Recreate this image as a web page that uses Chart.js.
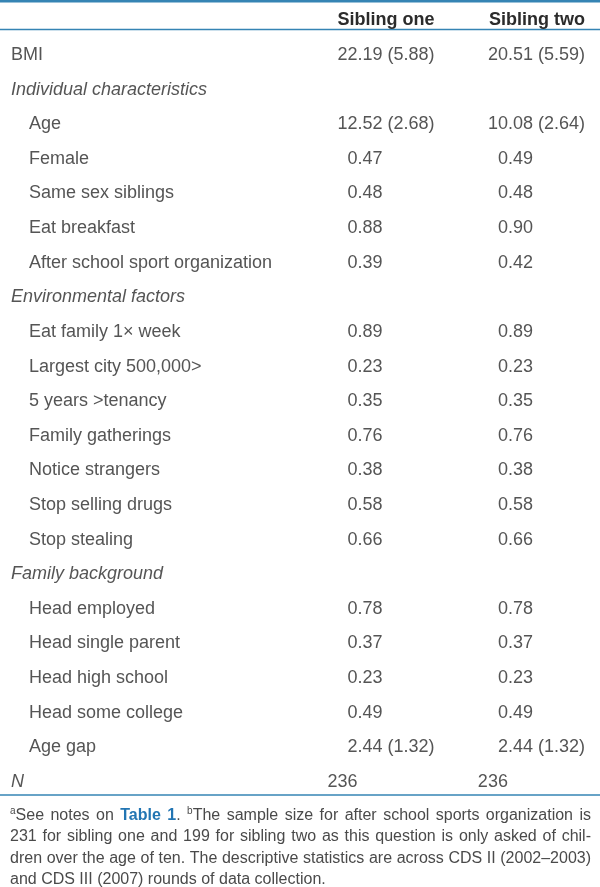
<!DOCTYPE html>
<html>
<head>
<meta charset="utf-8">
<script src="https://cdn.jsdelivr.net/npm/chart.js@4.4.1/dist/chart.umd.min.js"></script>
<style>
  html, body { margin: 0; padding: 0; background: #fff; }
  #wrap { width: 600px; height: 887px; position: relative; }
</style>
</head>
<body>
<div id="wrap"><canvas id="tableChart"></canvas></div>
<script>
// table rows, top to bottom
const rowLabels = [
    'BMI',
    'Individual characteristics',
    'Age', 'Female', 'Same sex siblings', 'Eat breakfast', 'After school sport organization',
    'Environmental factors',
    'Eat family 1\u00d7 week', 'Largest city 500,000>', '5 years >tenancy', 'Family gatherings',
    'Notice strangers', 'Stop selling drugs', 'Stop stealing',
    'Family background',
    'Head employed', 'Head single parent', 'Head high school', 'Head some college', 'Age gap',
    'N'
];
const sectionRows = ['Individual characteristics', 'Environmental factors', 'Family background'];
const topLevelRows = ['BMI', 'N'];
const columnHeaders = ['Sibling one', 'Sibling two'];

const siblingOneMean = [22.19, null, 12.52, 0.47, 0.48, 0.88, 0.39, null, 0.89, 0.23, 0.35, 0.76, 0.38, 0.58, 0.66, null, 0.78, 0.37, 0.23, 0.49, 2.44, 236];
const siblingOneSD   = [5.88, null, 2.68, null, null, null, null, null, null, null, null, null, null, null, null, null, null, null, null, null, 1.32, null];
const siblingTwoMean = [20.51, null, 10.08, 0.49, 0.48, 0.90, 0.42, null, 0.89, 0.23, 0.35, 0.76, 0.38, 0.58, 0.66, null, 0.78, 0.37, 0.23, 0.49, 2.44, 236];
const siblingTwoSD   = [5.59, null, 2.64, null, null, null, null, null, null, null, null, null, null, null, null, null, null, null, null, null, 1.32, null];

const footnoteLines = [
    [['sup', 'a'], ['txt', 'See notes on '], ['link', 'Table 1'], ['txt', '. '], ['sup', 'b'], ['txt', 'The sample size for after school sports organization is']],
    [['txt', '231 for sibling one and 199 for sibling two as this question is only asked of chil-']],
    [['txt', 'dren over the age of ten. The descriptive statistics are across CDS II (2002\u20132003)']],
    [['txt', 'and CDS III (2007) rounds of data collection.']]
];

const FONT = '"Liberation Sans", Arial, Helvetica, sans-serif';
const TEXT_COLOR = '#555';
const RULE_COLOR = '#3584b4';

function cellText(mean, sd, row) {
    if (mean == null) return '';
    const m = rowLabels[row] === 'N' ? String(mean) : mean.toFixed(2);
    return sd == null ? m : m + ' (' + sd.toFixed(2) + ')';
}

function columnPoints(col, means) {
    return rowLabels
        .filter((_, i) => means[i] != null)
        .map(label => ({ x: col, y: label }));
}

const columns = [
    { mean: siblingOneMean, sd: siblingOneSD },
    { mean: siblingTwoMean, sd: siblingTwoSD }
];

const footStyles = {
    txt: { font: '16px ' + FONT, color: '#4a4a4a', rise: 0 },
    sup: { font: '10px ' + FONT, color: '#4a4a4a', rise: 6 },
    link: { font: 'bold 16px ' + FONT, color: '#2275b3', rise: 0 }
};

function drawRichLine(ctx, runs, left, right, baseline, justify) {
    const words = [];
    let cur = [];
    runs.forEach(([style, text]) => {
        text.split(' ').forEach((part, k) => {
            if (k > 0) { if (cur.length) words.push(cur); cur = []; }
            if (part) cur.push([style, part]);
        });
    });
    if (cur.length) words.push(cur);

    const widthOf = ([style, t]) => { ctx.font = footStyles[style].font; return ctx.measureText(t).width; };
    const wordWidths = words.map(w => w.reduce((s, r) => s + widthOf(r), 0));
    const total = wordWidths.reduce((a, b) => a + b, 0);
    ctx.font = footStyles.txt.font;
    const space = ctx.measureText(' ').width;
    const gap = justify && words.length > 1 ? (right - left - total) / (words.length - 1) : space;

    let x = left;
    words.forEach(w => {
        w.forEach(r => {
            const st = footStyles[r[0]];
            ctx.font = st.font;
            ctx.fillStyle = st.color;
            ctx.fillText(r[1], x, baseline - st.rise);
            x += ctx.measureText(r[1]).width;
        });
        x += gap;
    });
}

const tablePlugin = {
    id: 'tableText',
    afterDraw(chart) {
        const { ctx, chartArea, scales: { y } } = chart;
        const step = y.getPixelForValue(1) - y.getPixelForValue(0);
        ctx.save();

        // rules
        ctx.strokeStyle = RULE_COLOR;
        ctx.lineWidth = 2.5;
        ctx.beginPath(); ctx.moveTo(0, 1.2); ctx.lineTo(600, 1.2); ctx.stroke();
        ctx.lineWidth = 1.6;
        const headerRule = chartArea.top - 25.5;
        ctx.beginPath(); ctx.moveTo(0, headerRule); ctx.lineTo(600, headerRule); ctx.stroke();
        const bottomRule = chartArea.bottom + 13;
        ctx.beginPath(); ctx.moveTo(0, bottomRule); ctx.lineTo(600, bottomRule); ctx.stroke();

        // row labels
        ctx.textBaseline = 'middle';
        ctx.textAlign = 'left';
        ctx.fillStyle = TEXT_COLOR;
        rowLabels.forEach((label, i) => {
            const italic = sectionRows.includes(label) || label === 'N';
            const indent = sectionRows.includes(label) || topLevelRows.includes(label) ? 11 : 29;
            ctx.font = (italic ? 'italic ' : '') + '18px ' + FONT;
            ctx.fillText(label, indent, y.getPixelForValue(i));
        });

        // cells, decimal aligned on each point of the dataset
        ctx.font = '18px ' + FONT;
        const extents = [];
        chart.data.datasets.forEach((ds, d) => {
            const meta = chart.getDatasetMeta(d);
            let lo = Infinity, hi = -Infinity;
            meta.data.forEach((pt, j) => {
                const row = rowLabels.indexOf(ds.data[j].y);
                const text = cellText(columns[d].mean[row], columns[d].sd[row], row);
                const intPart = text.split('.')[0].split(' ')[0];
                const x0 = pt.x - ctx.measureText(intPart).width;
                ctx.fillText(text, x0, pt.y);
                lo = Math.min(lo, x0);
                hi = Math.max(hi, x0 + ctx.measureText(text).width);
            });
            extents.push([lo, hi]);
        });

        // column headers, right edge on the widest cell
        ctx.font = 'bold 18px ' + FONT;
        ctx.fillStyle = '#2b2b2b';
        ctx.textAlign = 'right';
        const headerY = y.getPixelForValue(0) - step;
        columnHeaders.forEach((h, c) => {
            ctx.fillText(h, extents[c][1], headerY);
        });

        // footnote
        ctx.textAlign = 'left';
        ctx.textBaseline = 'alphabetic';
        footnoteLines.forEach((runs, i) => {
            drawRichLine(ctx, runs, 10, 591, bottomRule + 25 + i * 21.4, i < footnoteLines.length - 1);
        });
        ctx.restore();
    }
};

new Chart(document.getElementById('tableChart'), {
    type: 'scatter',
    data: {
        datasets: columns.map((c, d) => ({
            label: columnHeaders[d],
            data: columnPoints(d + 1, c.mean),
            pointRadius: 0,
            pointHoverRadius: 0,
            showLine: false
        }))
    },
    options: {
        responsive: true,
        maintainAspectRatio: false,
        animation: false,
        events: [],
        layout: { padding: { top: 55, bottom: 105, left: 0, right: 0 } },
        scales: {
            x: { type: 'linear', display: false, min: -1.375, max: 2.612 },
            y: { type: 'category', labels: rowLabels, display: false, offset: false }
        },
        plugins: { legend: { display: false }, tooltip: { enabled: false } }
    },
    plugins: [tablePlugin]
});
</script>
</body>
</html>
